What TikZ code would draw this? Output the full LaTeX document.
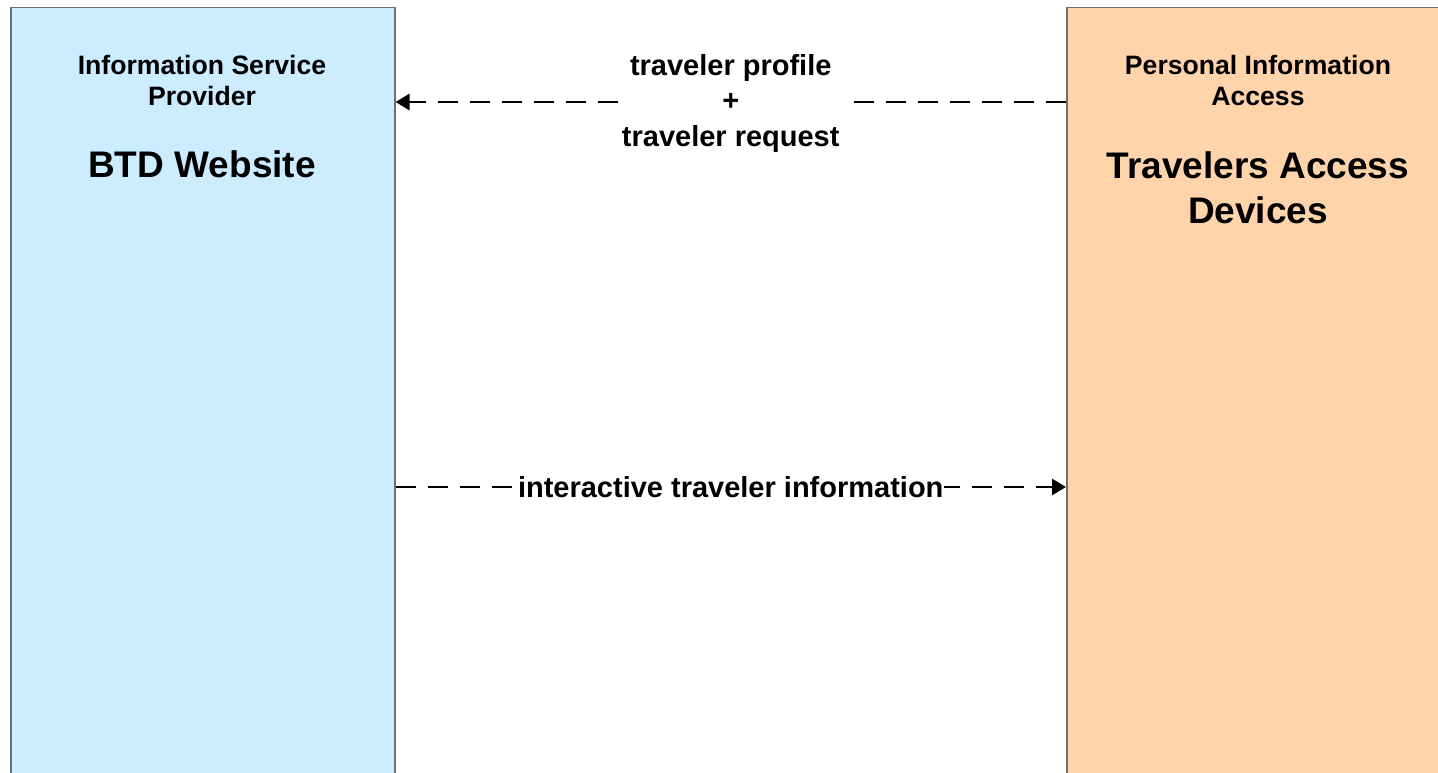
\documentclass[tikz,border=0pt]{standalone}
\usepackage{fontspec}
\setmainfont{Liberation Sans}
\usetikzlibrary{arrows.meta}
\definecolor{boxblue}{RGB}{204,236,255}
\definecolor{boxorange}{RGB}{255,212,170}
\definecolor{boxline}{RGB}{110,110,110}
\tikzset{
  sysbox/.style={draw=boxline, line width=1.5pt, rectangle, inner sep=0pt,
    minimum width=384pt, minimum height=793pt, anchor=north west},
  headtxt/.style={font=\bfseries\fontsize{26.6}{31.4}\selectfont, inner sep=0pt, anchor=base},
  titletxt/.style={font=\bfseries\fontsize{37}{44.5}\selectfont, inner sep=0pt, anchor=base},
  conn/.style={line width=2.8pt, dash pattern=on 20pt off 12pt, -{Triangle[length=14pt,width=16pt]}},
  lab/.style={fill=white, font=\bfseries\fontsize{29}{35.3}\selectfont, align=center, inner sep=3pt}
}
\begin{document}
\begin{tikzpicture}[x=1pt,y=-1pt]
\useasboundingbox (0,0) rectangle (1438,773);
\clip (0,0) rectangle (1438,773);
\node[sysbox, fill=boxblue] (lbox) at (10,7) {};
\node[sysbox, fill=boxorange] (rbox) at (1066,7) {};
\node[headtxt] (lhead1) at (202,74.3) {Information Service};
\node[headtxt] (lhead2) at (202,105.7) {Provider};
\node[titletxt] (ltitle) at (202,177.7) {BTD Website};
\node[headtxt] (rhead1) at (1258,74.3) {Personal Information};
\node[headtxt] (rhead2) at (1258,105.7) {Access};
\node[titletxt] (rtitle1) at (1258,178.3) {Travelers Access};
\node[titletxt] (rtitle2) at (1258,223.3) {Devices};
\coordinate (y1) at (0,102);
\coordinate (y2) at (0,487);
\draw[conn] (rbox.west |- y1) -- node[lab, yshift=-1.5pt] (l1) {traveler profile\\+\\traveler request} (lbox.east |- y1);
\draw[conn] (lbox.east |- y2) -- node[lab, inner sep=1pt] (l2) {interactive traveler information} (rbox.west |- y2);
\end{tikzpicture}
\end{document}
